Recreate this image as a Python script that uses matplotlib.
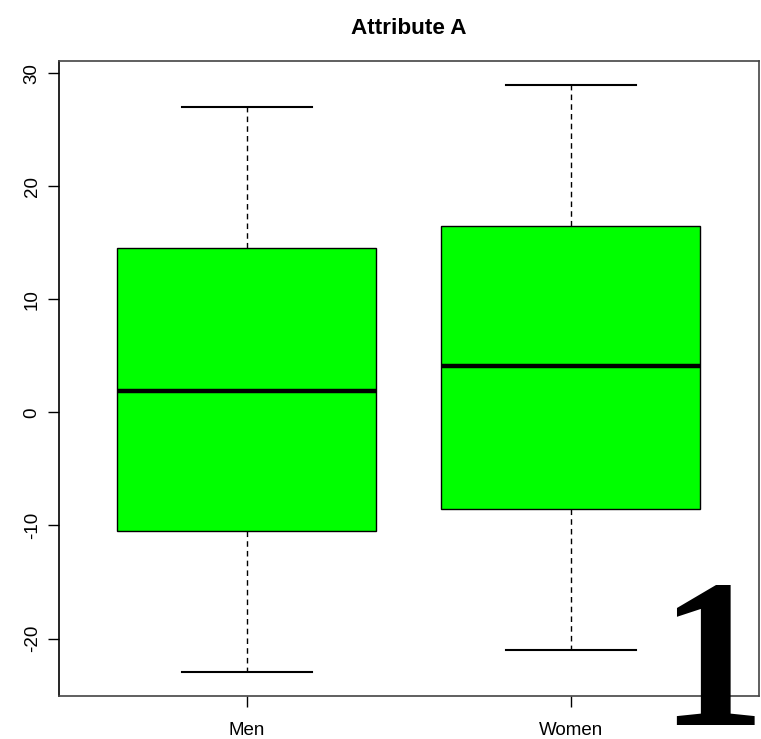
import matplotlib.pyplot as plt

plt.rcParams['font.family'] = ['Liberation Sans', 'DejaVu Sans']

# Five-number summaries per group
groups = ["Men", "Women"]
whisker_low = [-23.0, -21.0]
q1 = [-10.5, -8.5]
median = [1.9, 4.1]
q3 = [14.5, 16.5]
whisker_high = [27.0, 29.0]
y_ticks = [-20, -10, 0, 10, 20, 30]

stats = []
for i, name in enumerate(groups):
    stats.append({
        "label": name,
        "whislo": whisker_low[i],
        "q1": q1[i],
        "med": median[i],
        "q3": q3[i],
        "whishi": whisker_high[i],
        "fliers": [],
    })

fig = plt.figure(figsize=(7.61, 7.39), dpi=100)
ax = fig.add_axes([58.8 / 761, 43 / 739, 700 / 761, 635 / 739])

ax.bxp(stats, positions=[1, 2], widths=0.8, patch_artist=True,
       boxprops=dict(facecolor="#00ff00", edgecolor="black", linewidth=1.0),
       medianprops=dict(color="black", linewidth=3.2),
       whiskerprops=dict(color="black", linestyle=(0, (4, 3)), linewidth=1.0),
       capprops=dict(color="black", linewidth=1.5),
       capwidths=0.4)

ax.set_xlim(0.42, 2.58)
ax.set_ylim(-25.08, 31.08)
ax.set_yticks(y_ticks)
ax.set_yticklabels([str(v) for v in y_ticks], rotation=90, va="center")
ax.set_xticks([1, 2])
ax.set_xticklabels(groups)
ax.tick_params(axis="both", length=8, width=1.0, labelsize=13.5)
ax.tick_params(axis="y", pad=5)
ax.tick_params(axis="x", pad=11)
for side in ax.spines.values():
    side.set_color("#444444")
    side.set_linewidth(1.2)
ax.spines["left"].set_color("black")

fig.text(0.5 * (58.8 + 758.8) / 761, 1 - 28 / 739, "Attribute A",
         ha="center", va="center", fontsize=16.2, fontweight="bold")

# Panel number in the lower right corner
fig.text(712 / 761, 1 - 578 / 739, "1",
         family=["Liberation Serif", "DejaVu Serif"],
         fontweight="bold", fontsize=152, ha="center", va="top",
         zorder=10)

fig.savefig("out.png", dpi=100)
